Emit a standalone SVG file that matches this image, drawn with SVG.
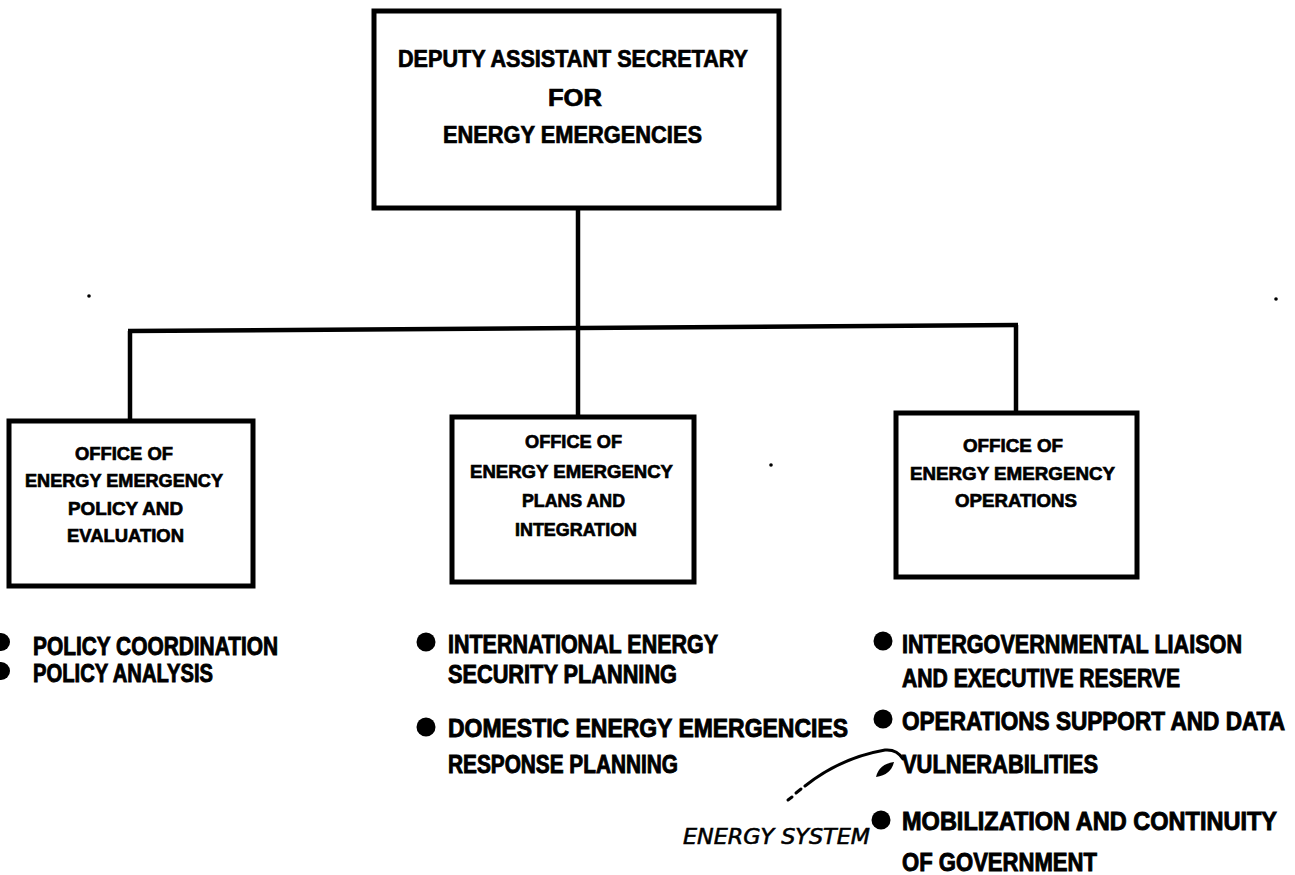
<svg xmlns="http://www.w3.org/2000/svg" width="1295" height="875" viewBox="0 0 1295 875">
<style>
.box{fill:#fff;stroke:#000;stroke-width:5}
.ln{fill:none;stroke:#000;stroke-width:4.5}
.t{font-family:"Liberation Sans",Arial,sans-serif;font-weight:bold;fill:#000;stroke:#000;stroke-width:0.7}
.tb{font-size:23px}
.to{font-size:19px}
.tl{font-size:25px;stroke-width:0.9}
.hw{font-family:"DejaVu Sans","Liberation Sans",sans-serif;font-style:italic;font-size:22px;fill:#000;stroke:#000;stroke-width:0.6}
.pen{fill:none;stroke:#000;stroke-width:3;stroke-linecap:round}
</style>
<rect width="1295" height="875" fill="#fff"/>
<g id="connectors">
<line class="ln" x1="578" y1="208" x2="578" y2="330"/>
<line class="ln" x1="128" y1="331" x2="1018" y2="325"/>
<line class="ln" x1="130" y1="331" x2="130" y2="421"/>
<line class="ln" x1="578" y1="328" x2="578" y2="417"/>
<line class="ln" x1="1016" y1="325" x2="1016" y2="413"/>
</g>
<g id="deputy">
<rect class="box" x="374" y="11" width="405" height="197"/>
<text class="t tb" x="398" y="67" textLength="350" lengthAdjust="spacingAndGlyphs">DEPUTY ASSISTANT SECRETARY</text>
<text class="t tb" x="548" y="106" textLength="54" lengthAdjust="spacingAndGlyphs">FOR</text>
<text class="t tb" x="443" y="143" textLength="259" lengthAdjust="spacingAndGlyphs">ENERGY EMERGENCIES</text>
</g>
<g id="office-policy">
<rect class="box" x="9" y="421" width="244" height="165"/>
<text class="t to" x="75" y="460" textLength="98" lengthAdjust="spacingAndGlyphs">OFFICE OF</text>
<text class="t to" x="25" y="487" textLength="198" lengthAdjust="spacingAndGlyphs">ENERGY EMERGENCY</text>
<text class="t to" x="68" y="515" textLength="115" lengthAdjust="spacingAndGlyphs">POLICY AND</text>
<text class="t to" x="67" y="542" textLength="117" lengthAdjust="spacingAndGlyphs">EVALUATION</text>
</g>
<g id="office-plans">
<rect class="box" x="452" y="417" width="242" height="165"/>
<text class="t to" x="525" y="448" textLength="97" lengthAdjust="spacingAndGlyphs">OFFICE OF</text>
<text class="t to" x="470" y="478" textLength="203" lengthAdjust="spacingAndGlyphs">ENERGY EMERGENCY</text>
<text class="t to" x="522" y="507" textLength="103" lengthAdjust="spacingAndGlyphs">PLANS AND</text>
<text class="t to" x="515" y="536" textLength="122" lengthAdjust="spacingAndGlyphs">INTEGRATION</text>
</g>
<g id="office-operations">
<rect class="box" x="896" y="413" width="241" height="164"/>
<text class="t to" x="963" y="452" textLength="100" lengthAdjust="spacingAndGlyphs">OFFICE OF</text>
<text class="t to" x="910" y="480" textLength="205" lengthAdjust="spacingAndGlyphs">ENERGY EMERGENCY</text>
<text class="t to" x="955" y="507" textLength="122" lengthAdjust="spacingAndGlyphs">OPERATIONS</text>
</g>
<g id="list-policy">
<circle cx="1" cy="642" r="9"/>
<circle cx="1" cy="671" r="9"/>
<text class="t tl" x="33" y="655" textLength="245" lengthAdjust="spacingAndGlyphs">POLICY COORDINATION</text>
<text class="t tl" x="33" y="682" textLength="180" lengthAdjust="spacingAndGlyphs">POLICY ANALYSIS</text>
</g>
<g id="list-plans">
<circle cx="426" cy="642" r="9.5"/>
<circle cx="426" cy="727" r="9.5"/>
<text class="t tl" x="448" y="653" textLength="270" lengthAdjust="spacingAndGlyphs">INTERNATIONAL ENERGY</text>
<text class="t tl" x="448" y="683" textLength="229" lengthAdjust="spacingAndGlyphs">SECURITY PLANNING</text>
<text class="t tl" x="448" y="737" textLength="400" lengthAdjust="spacingAndGlyphs">DOMESTIC ENERGY EMERGENCIES</text>
<text class="t tl" x="448" y="773" textLength="230" lengthAdjust="spacingAndGlyphs">RESPONSE PLANNING</text>
</g>
<g id="list-operations">
<circle cx="883" cy="641" r="9.5"/>
<circle cx="883" cy="719" r="9.5"/>
<circle cx="881" cy="820" r="9.5"/>
<text class="t tl" x="902" y="653" textLength="340" lengthAdjust="spacingAndGlyphs">INTERGOVERNMENTAL LIAISON</text>
<text class="t tl" x="902" y="687" textLength="278" lengthAdjust="spacingAndGlyphs">AND EXECUTIVE RESERVE</text>
<text class="t tl" x="902" y="730" textLength="383" lengthAdjust="spacingAndGlyphs">OPERATIONS SUPPORT AND DATA</text>
<text class="t tl" x="902" y="773" textLength="196" lengthAdjust="spacingAndGlyphs">VULNERABILITIES</text>
<text class="t tl" x="902" y="830" textLength="375" lengthAdjust="spacingAndGlyphs">MOBILIZATION AND CONTINUITY</text>
<text class="t tl" x="902" y="871" textLength="195" lengthAdjust="spacingAndGlyphs">OF GOVERNMENT</text>
</g>
<g id="annotation">
<path class="pen" d="M788,800 L792,797 M796,793 L801,789"/>
<path class="pen" d="M805,786 Q840,758 885,750 Q897,749 903,759"/>
<path d="M876,777 Q879,764 894,762 Q891,775 876,777 Z"/>
<text class="hw" x="683" y="844" textLength="187" lengthAdjust="spacingAndGlyphs">ENERGY SYSTEM</text>
</g>
<g id="specks">
<circle cx="89" cy="296" r="1.8"/>
<circle cx="1276" cy="299" r="1.8"/>
<circle cx="771" cy="465" r="1.8"/>
</g>
</svg>
